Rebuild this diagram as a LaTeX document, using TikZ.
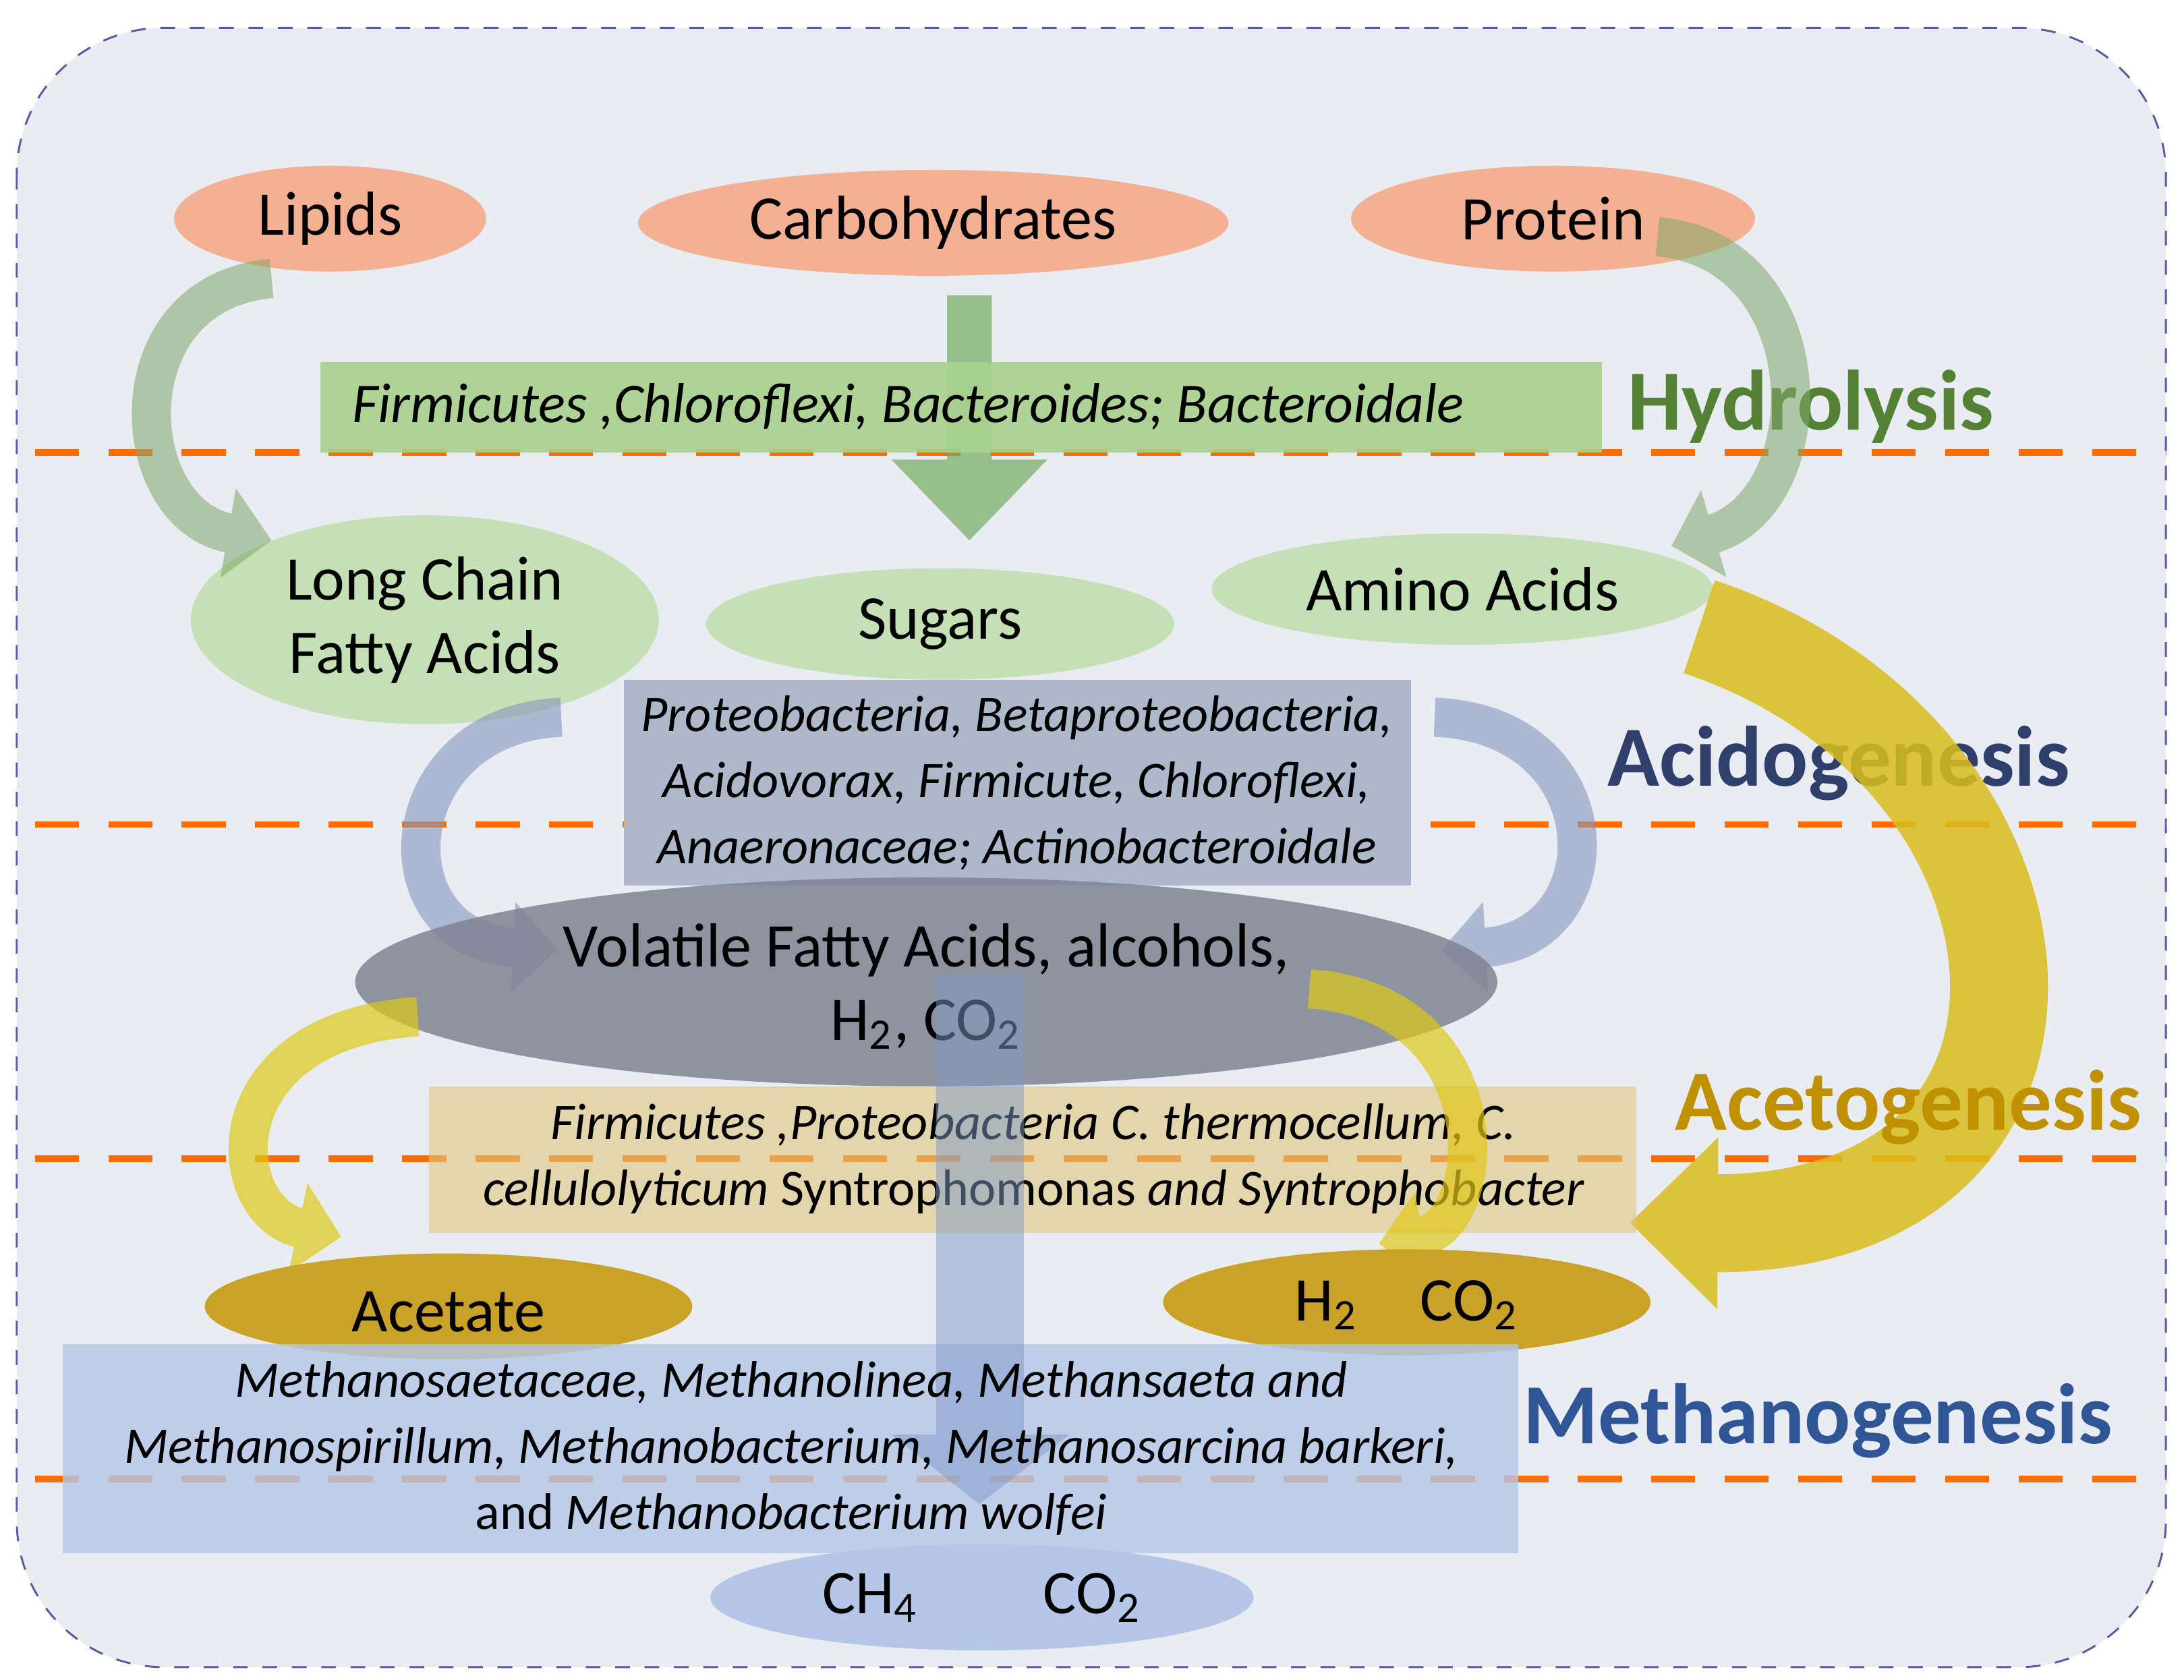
\documentclass[tikz,border=0pt]{standalone}
\usepackage{fontspec}
\setmainfont{Carlito}
\usetikzlibrary{arrows.meta}
\definecolor{salmon}{HTML}{F4B093}
\definecolor{lgreen}{HTML}{C5E0B4}
\definecolor{mgreen}{HTML}{A9D18E}
\definecolor{dgreen}{HTML}{548235}
\definecolor{bluegrey}{HTML}{ADB9CA}
\definecolor{navy}{HTML}{2F3F6B}
\definecolor{gold}{HTML}{C9A227}
\definecolor{dgold}{HTML}{BF9000}
\definecolor{lblue}{HTML}{B4C7E7}
\definecolor{mblue}{HTML}{2F5597}
\definecolor{bg}{HTML}{E9ECF3}
\begin{document}
\begin{tikzpicture}[x=0.01cm,y=-0.01cm,
 lab/.style={font=\fontsize{12.7}{15}\selectfont},
 spec/.style={font=\fontsize{11.5}{15}\selectfont\itshape,align=center},
 spec2/.style={font=\fontsize{10.5}{13.5}\selectfont\itshape,align=center},
 head/.style={font=\fontsize{17.5}{20}\selectfont\bfseries},
 sepline/.style={draw=orange!85!red,line width=1.3pt,dash pattern=on 9pt off 6pt},
 carrow/.style={line width=8pt,-{Triangle[width=18pt,length=9pt]}}]
\useasboundingbox (0,0) rectangle (1568,1206);
\draw[fill=bg,draw=blue!30!gray,dashed,rounded corners=30pt] (12,20) rectangle (1555,1197);
\foreach \y in {325,592,832,1062} \draw[sepline] (25,\y) -- (1555,\y);
% hydrolysis
\fill[salmon] (237,157) ellipse (112 and 38);
\fill[salmon] (670,160) ellipse (212 and 38);
\fill[salmon] (1115,157) ellipse (145 and 38);
\node[lab] (lip) at (237,157) {Lipids};
\node[lab] (carb) at (670,160) {Carbohydrates};
\node[lab] (prot) at (1115,157) {Protein};
\fill[mgreen!85!green!80!black,opacity=0.7] (680,212) rectangle (712,330) -- (752,330) -- (696,388) -- (640,330) -- (680,330);
\fill[mgreen,opacity=0.9] (230,260) rectangle (1150,325);
\node[spec] (hyb) at (652,292) {Firmicutes ,Chloroflexi, Bacteroides; Bacteroidale};
\node[head,text=dgreen] (hyd) at (1300,292) {Hydrolysis};
% acidogenesis
\fill[lgreen] (305,445) ellipse (168 and 75);
\fill[lgreen] (675,448) ellipse (168 and 40);
\fill[lgreen] (1050,423) ellipse (180 and 40);
\node[lab,align=center] (lcfa) at (305,445) {Long Chain\\Fatty Acids};
\node[lab] (sug) at (675,448) {Sugars};
\node[lab] (ami) at (1050,423) {Amino Acids};
\begin{scope}[transparency group,opacity=0.55]
\draw[carrow,draw=dgreen!60!lgreen] (195,200) .. controls (80,210) and (90,370) .. (195,388);
\draw[carrow,draw=dgreen!60!lgreen] (1190,170) .. controls (1310,180) and (1310,360) .. (1200,392);
\end{scope}
\fill[bluegrey] (448,488) rectangle (1013,636);
\node[spec2] (acb) at (730,562) {Proteobacteria, Betaproteobacteria,\\Acidovorax, Firmicute, Chloroflexi,\\Anaeronaceae; Actinobacteroidale};
\node[head,text=navy] (acid) at (1320,548) {Acidogenesis};
\begin{scope}[transparency group,opacity=0.6]
\draw[carrow,draw=navy!35!lblue] (403,515) .. controls (280,520) and (270,675) .. (400,682);
\draw[carrow,draw=navy!35!lblue] (1030,515) .. controls (1160,520) and (1160,675) .. (1035,682);
\end{scope}
% VFA
\fill[gray!60!navy!80,opacity=0.85] (665,705) ellipse (410 and 75);
\node[lab,align=center] (vfa) at (665,708) {Volatile Fatty Acids, alcohols,\\H\textsubscript{2}, CO\textsubscript{2}};
% acetogenesis
\begin{scope}[transparency group,opacity=0.85]
\draw[line width=20pt,-{Triangle[width=34pt,length=18pt]},draw=gold!70!yellow] (1220,450) .. controls (1490,540) and (1520,880) .. (1170,878);
\end{scope}
\fill[gold!60!white,opacity=0.6] (308,780) rectangle (1175,885);
\node[spec2] (acetb) at (742,832) {Firmicutes ,Proteobacteria C. thermocellum, C.\\cellulolyticum \upshape Syntrophomonas \itshape and Syntrophobacter};
\node[head,text=dgold] (aceto) at (1370,795) {Acetogenesis};
\begin{scope}[transparency group,opacity=0.7]
\draw[carrow,draw=gold!60!yellow] (300,730) .. controls (150,740) and (160,870) .. (245,888);
\draw[carrow,draw=gold!60!yellow] (940,710) .. controls (1080,720) and (1070,880) .. (990,893);
\end{scope}
\fill[gold] (322,938) ellipse (175 and 38);
\fill[gold] (1010,935) ellipse (175 and 38);
\node[lab] (acet) at (322,942) {Acetate};
\node[lab] (h2) at (1010,937) {H\textsubscript{2}\quad CO\textsubscript{2}};
% methanogenesis
\fill[lblue,opacity=0.8] (45,965) rectangle (1090,1115);
\fill[mblue!40!lblue,opacity=0.5] (672,700) rectangle (735,1030) -- (768,1030) -- (703,1080) -- (640,1030) -- (672,1030);
\node[spec2] (metb) at (568,1040) {Methanosaetaceae, Methanolinea, Methansaeta and\\Methanospirillum, Methanobacterium, Methanosarcina barkeri,\\\upshape and \itshape Methanobacterium wolfei};
\node[head,text=mblue] (meth) at (1305,1020) {Methanogenesis};
\fill[lblue] (705,1147) ellipse (195 and 38);
\node[lab] (ch4) at (705,1147) {CH\textsubscript{4}\qquad CO\textsubscript{2}};
\end{tikzpicture}
\end{document}
